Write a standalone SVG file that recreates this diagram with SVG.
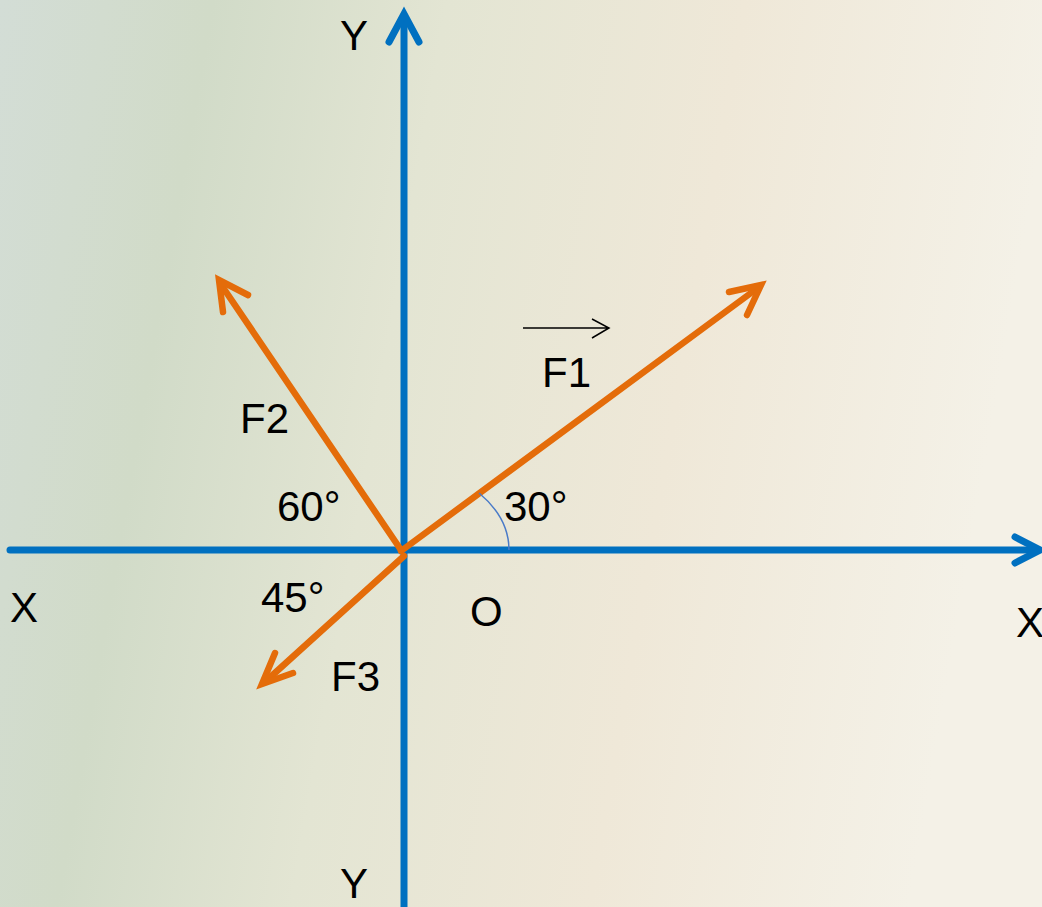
<svg xmlns="http://www.w3.org/2000/svg" width="1042" height="907" viewBox="0 0 1042 907">
<defs>
<linearGradient id="bg" x1="0" y1="0" x2="1" y2="0.15">
<stop offset="0" stop-color="#d3ddd6"/>
<stop offset="0.2" stop-color="#d1dbc8"/>
<stop offset="0.42" stop-color="#e3e5d3"/>
<stop offset="0.7" stop-color="#efe8d8"/>
<stop offset="1" stop-color="#f4f1e7"/>
</linearGradient>
<style>
.axis{stroke:#0070c0;stroke-width:7;fill:none;stroke-linecap:round;stroke-linejoin:miter}
.force{stroke:#e46c0a;stroke-width:6.5;fill:none;stroke-linecap:round;stroke-linejoin:miter}
.lbl{font-family:"Liberation Sans",Arial,sans-serif;font-size:42px;fill:#000}
</style>
</defs>
<rect width="1042" height="907" fill="url(#bg)"/>
<g id="connectors">
<g id="y-axis"><path class="axis" d="M404,907 L404,16" stroke-linecap="butt"/><path class="axis" d="M389,42 L404,14 L419,42"/></g>
<g id="x-axis"><path class="axis" d="M10,550 L1036,550" stroke-linecap="butt"/><path class="axis" d="M1015,537 L1040,550 L1015,563"/></g>
<g id="F1-vec"><path class="force" d="M401,551 L755,290"/><path class="force" d="M729,292 L761,285 L747,315"/></g>
<g id="F2-vec"><path class="force" d="M401,550 L222,286"/><path class="force" d="M223,312 L219,280 L248,295"/></g>
<g id="F3-vec"><path class="force" d="M404,556 L266,681"/><path class="force" d="M275,653 L262,684 L293,673"/></g>
<g id="angle-arc"><path d="M479,493 C497,508 509,526 509,550" fill="none" stroke="#4a7bc8" stroke-width="1.5"/></g>
<g id="vec-arrow"><path d="M523,328 L609,328 M592,319 L609,328 L592,338" fill="none" stroke="#000" stroke-width="1.5"/></g>
</g>
<g id="labels">
<text class="lbl" x="340" y="50">Y</text>
<text class="lbl" x="340" y="898">Y</text>
<text class="lbl" x="10" y="622">X</text>
<text class="lbl" x="1016" y="637">X</text>
<text class="lbl" x="470" y="626">O</text>
<text class="lbl" x="542" y="387">F1</text>
<text class="lbl" x="240" y="433">F2</text>
<text class="lbl" x="331" y="691">F3</text>
<text class="lbl" x="277" y="521">60°</text>
<text class="lbl" x="504" y="521">30°</text>
<text class="lbl" x="261" y="612">45°</text>
</g>
</svg>
